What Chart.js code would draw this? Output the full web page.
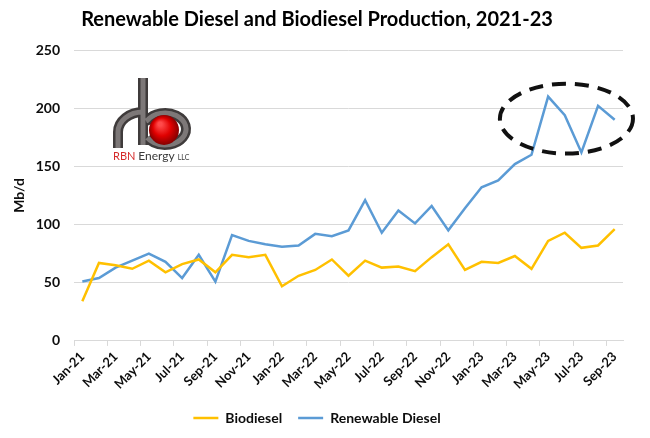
<!DOCTYPE html>
<html>
<head>
<meta charset="utf-8">
<title>Renewable Diesel and Biodiesel Production, 2021-23</title>
<script src="https://cdn.jsdelivr.net/npm/chart.js@4.4.0/dist/chart.umd.min.js"></script>
<style>
    html, body { margin: 0; padding: 0; background: #ffffff; }
    #wrap { width: 650px; height: 438px; position: relative; }
</style>
</head>
<body>
<div id="wrap"><canvas id="chart"></canvas></div>
<script>
// Monthly production, Mb/d
const months = [
    'Jan-21', 'Feb-21', 'Mar-21', 'Apr-21', 'May-21', 'Jun-21', 'Jul-21', 'Aug-21', 'Sep-21', 'Oct-21', 'Nov-21', 'Dec-21',
    'Jan-22', 'Feb-22', 'Mar-22', 'Apr-22', 'May-22', 'Jun-22', 'Jul-22', 'Aug-22', 'Sep-22', 'Oct-22', 'Nov-22', 'Dec-22',
    'Jan-23', 'Feb-23', 'Mar-23', 'Apr-23', 'May-23', 'Jun-23', 'Jul-23', 'Aug-23', 'Sep-23'
];
const biodiesel = [34, 67, 65, 62, 69, 59, 66, 70, 59, 74, 72, 74, 47, 56, 61, 70, 56, 69, 63, 64, 60, 72, 83, 61, 68, 67, 73, 62, 86, 93, 80, 82, 96];
const renewableDiesel = [51, 54, 63, 69, 75, 68, 54, 74, 51, 91, 86, 83, 81, 82, 92, 90, 95, 121, 93, 112, 101, 116, 95, 114, 132, 138, 152, 160, 210, 194, 162, 202, 190];
const yMax = 250;
const yStep = 50;

// Dashed highlight ring around the 2023 peak, in data units
const ringCenterIndex = 29.1;
const ringCenterValue = 191;
const ringHalfMonths = 4.0;
const ringHalfValue = 30;

const fontFamily = 'Lato, "Open Sans", sans-serif';
const textColor = '#0d0d0d';

// Draw the RBN Energy logo in the top left of the plot
function drawLogo(ctx) {
    ctx.save();
    // pipes: dark outline then lighter core
    const pipes = function() {
        ctx.beginPath();
        ctx.moveTo(118, 148);
        ctx.lineTo(118, 132);
        ctx.ellipse(143, 132, 25, 20, 0, Math.PI, 1.5 * Math.PI);
        ctx.moveTo(143, 78);
        ctx.lineTo(143, 145);
        ctx.moveTo(146, 121);
        ctx.ellipse(165, 129, 21, 16, 0, -0.82 * Math.PI, 0.82 * Math.PI);
    };
    ctx.lineCap = 'butt';
    pipes();
    ctx.strokeStyle = '#3f3b3b';
    ctx.lineWidth = 10;
    ctx.stroke();
    pipes();
    ctx.strokeStyle = '#7d7878';
    ctx.lineWidth = 5;
    ctx.stroke();

    // red sphere
    const grad = ctx.createRadialGradient(160, 124, 2, 164, 130, 16);
    grad.addColorStop(0, '#ff4a4a');
    grad.addColorStop(0.5, '#e00000');
    grad.addColorStop(1, '#7a0000');
    ctx.beginPath();
    ctx.arc(164, 130, 15, 0, 2 * Math.PI);
    ctx.fillStyle = grad;
    ctx.fill();

    // wordmark
    ctx.textBaseline = 'alphabetic';
    ctx.textAlign = 'left';
    ctx.font = '11px ' + fontFamily;
    ctx.fillStyle = '#d52b2b';
    ctx.fillText('RBN', 113, 160);
    let x = 113 + ctx.measureText('RBN ').width;
    ctx.fillStyle = '#3a3a3a';
    ctx.font = '12px ' + fontFamily;
    ctx.fillText('Energy', x, 160);
    x += ctx.measureText('Energy ').width;
    ctx.font = '7px ' + fontFamily;
    ctx.fillText('LLC', x, 160);
    ctx.restore();
}

const decorPlugin = {
    id: 'decor',
    afterDraw(chart) {
        const ctx = chart.ctx;
        const xs = chart.scales.x;
        const ys = chart.scales.y;
        drawLogo(ctx);

        const cx = xs.getPixelForValue(ringCenterIndex);
        const rx = Math.abs(xs.getPixelForValue(ringCenterIndex + ringHalfMonths) - cx);
        const cy = ys.getPixelForValue(ringCenterValue);
        const ry = Math.abs(ys.getPixelForValue(ringCenterValue + ringHalfValue) - cy);
        ctx.save();
        ctx.beginPath();
        ctx.ellipse(cx, cy, rx, ry, 0, 0, 2 * Math.PI);
        ctx.setLineDash([14, 9]);
        ctx.lineWidth = 4;
        ctx.strokeStyle = '#111111';
        ctx.stroke();
        ctx.restore();
    }
};

const ctx = document.getElementById('chart').getContext('2d');
new Chart(ctx, {
    type: 'line',
    data: {
        labels: months,
        datasets: [
            {
                label: 'Biodiesel',
                data: biodiesel,
                borderColor: '#FFC000',
                backgroundColor: '#FFC000',
                borderWidth: 2.5,
                pointRadius: 0,
                tension: 0
            },
            {
                label: 'Renewable Diesel',
                data: renewableDiesel,
                borderColor: '#5B9BD5',
                backgroundColor: '#5B9BD5',
                borderWidth: 2.5,
                pointRadius: 0,
                tension: 0
            }
        ]
    },
    options: {
        responsive: true,
        maintainAspectRatio: false,
        animation: false,
        layout: {
            padding: { left: 11, right: 27, top: 6, bottom: 3 }
        },
        plugins: {
            title: {
                display: true,
                text: 'Renewable Diesel and Biodiesel Production, 2021-23',
                color: '#000000',
                font: { family: fontFamily, size: 20, weight: 'bold' },
                padding: { top: 2, bottom: 18 }
            },
            legend: {
                position: 'bottom',
                labels: {
                    usePointStyle: true,
                    pointStyle: 'line',
                    pointStyleWidth: 25,
                    padding: 16,
                    color: textColor,
                    font: { family: fontFamily, size: 14, weight: 'bold' }
                }
            },
            tooltip: { enabled: false }
        },
        scales: {
            x: {
                offset: true,
                grid: {
                    offset: true,
                    drawOnChartArea: false,
                    tickLength: 5,
                    color: function(c) { return c.index % 2 === 0 ? '#d9d9d9' : 'rgba(0,0,0,0)'; }
                },
                border: { color: '#d9d9d9' },
                ticks: {
                    autoSkip: false,
                    maxRotation: 45,
                    minRotation: 45,
                    padding: 3,
                    color: textColor,
                    font: { family: fontFamily, size: 13, weight: 'bold' },
                    callback: function(value, index) {
                        return index % 2 === 0 ? months[index] : '';
                    }
                }
            },
            y: {
                min: 0,
                max: yMax,
                afterFit: function(scale) { scale.width = 63; },
                grid: { color: '#d9d9d9', drawTicks: false },
                border: { display: false },
                ticks: {
                    stepSize: yStep,
                    padding: 14,
                    color: textColor,
                    font: { family: fontFamily, size: 14, weight: 'bold' }
                },
                title: {
                    display: true,
                    text: 'Mb/d',
                    color: textColor,
                    font: { family: fontFamily, size: 14, weight: 'bold' },
                    padding: { top: 0, bottom: 8 }
                }
            }
        }
    },
    plugins: [decorPlugin]
});
</script>
</body>
</html>
